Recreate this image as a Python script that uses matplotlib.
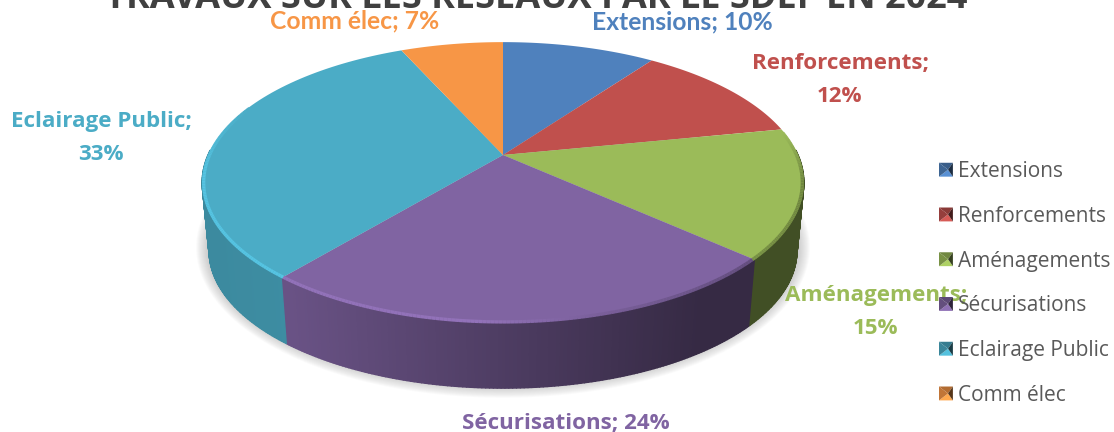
import numpy as np
import matplotlib
matplotlib.use('Agg')
import matplotlib.pyplot as plt
from matplotlib.collections import LineCollection, PolyCollection
from matplotlib.legend_handler import HandlerBase
from matplotlib.patches import Patch, Polygon

title = 'TRAVAUX SUR LES RESEAUX PAR LE SDEF EN 2024'
categories = ['Extensions', 'Renforcements', 'Aménagements', 'Sécurisations', 'Eclairage Public', 'Comm élec']
values = [10.0, 12.0, 15.0, 24.4, 32.6, 6.7]
labels = ['10%', '12%', '15%', '24%', '33%', '7%']
colors = ['#4f81bd', '#c0504d', '#9bbb59', '#8064a2', '#4bacc6', '#f79646']


def rgb(c, f=1.0):
    return np.clip(np.array(matplotlib.colors.to_rgb(c)) * f, 0, 1)


def top_xy(theta):
    # pie seen in perspective, theta clockwise from 12 o'clock
    u, v = np.sin(theta), np.cos(theta)
    w = 1 + 0.196 * v
    return 503 + 295 * u / w, 155 - 135 * v / w


def bottom_xy(theta):
    x, y = top_xy(theta)
    return 503 + 0.977 * (x - 503), 0.979 * y + 72


class BevelHandler(HandlerBase):
    # small pyramid shaped legend key (sizes in points)
    def create_artists(self, legend, orig, xd, yd, width, height, fontsize, trans):
        c = orig.get_facecolor()
        x0, y0 = -xd, -yd + height / 2 - 5
        x1, y1 = x0 + 10, y0 + 10
        xm, ym = (x0 + x1) / 2 + 1.5, (y0 + y1) / 2
        parts = [([(x0, y0), (x1, y0), (xm, ym)], 1.12),
                 ([(x0, y1), (x1, y1), (xm, ym)], 0.72),
                 ([(x0, y0), (x0, y1), (xm, ym)], 0.78),
                 ([(x1, y0), (x1, y1), (xm, ym)], 0.35)]
        return [Polygon(p, closed=True, facecolor=rgb(c, f), edgecolor='none', transform=trans) for p, f in parts]


fig = plt.figure(figsize=(11.14, 4.32), dpi=100)
ax = fig.add_axes([0, 0, 1, 1])
ax.set_xlim(0, 1114)
ax.set_ylim(432, 0)
ax.axis('off')

fractions = np.array(values) / sum(values)
edges = np.concatenate([[0], np.cumsum(fractions)]) * 2 * np.pi

# soft shadow under the pie
circle = np.linspace(0, 2 * np.pi, 240)
bx, by = bottom_xy(circle)
for grow in np.linspace(13, 1, 13):
    sx = 503 + (bx - 503) * (1 + grow / 295)
    sy = 252 + (by - 252) * (1 + grow / 140) - 3
    ax.fill(sx, sy, color='#808080', alpha=0.035, lw=0, zorder=1)

# side wall, drawn as thin strips shaded by x position
strips, strip_colors = [], []
wall = np.linspace(np.radians(88), np.radians(272), 300)
for a, b in zip(wall[:-1], wall[1:]):
    i = np.searchsorted(edges, (a + b) / 2) - 1
    xa, ya = top_xy(a)
    xb, yb = top_xy(b)
    xc, yc = bottom_xy(b)
    xd, yd = bottom_xy(a)
    strips.append([(xa, ya), (xb, yb), (xc, yc), (xd, yd)])
    shade = np.interp((xa + xb) / 2, [200, 290, 490, 700, 800], [0.8, 0.82, 0.62, 0.42, 0.42])
    strip_colors.append(rgb(colors[i], shade))
ax.add_collection(PolyCollection(strips, facecolors=strip_colors, edgecolors=strip_colors, linewidths=1.0, zorder=2))

# top face
for i, c in enumerate(colors):
    t = np.linspace(edges[i], edges[i + 1], 80)
    x, y = top_xy(t)
    ax.fill(np.r_[503, x], np.r_[155, y], color=c, lw=0, zorder=3)

# bevel just inside the front rim, fading out at both ends
segs, seg_colors = [], []
rim = np.linspace(np.radians(80), np.radians(292), 340)
for a, b in zip(rim[:-1], rim[1:]):
    i = np.searchsorted(edges, (a + b) / 2) - 1
    xa, ya = top_xy(a)
    xb, yb = top_xy(b)
    segs.append([(503 + (xa - 503) * 0.995, 182 + (ya - 182) * 0.993),
                 (503 + (xb - 503) * 0.995, 182 + (yb - 182) * 0.993)])
    f = np.interp((xa + xb) / 2, [200, 480, 600, 800], [1.14, 1.14, 0.95, 0.72])
    fade = np.interp(np.degrees(a), [80, 100, 262, 292], [0, 1, 1, 0])
    seg_colors.append(rgb(colors[i], 1 + (f - 1) * fade))
ax.add_collection(LineCollection(segs, colors=seg_colors, linewidths=2.4, zorder=4))

# title, cut by the top of the picture
ax.text(536, 8, title, fontsize=26, fontweight='bold', family='Open Sans', color='#404040', ha='center', va='baseline')

# data labels
label_pos = [(682, 22, 'Lato'), (840, 80, 'Open Sans'), (876, 312, 'Open Sans'),
             (566, 423, 'Open Sans'), (101, 138, 'Open Sans'), (355, 21, 'Lato')]
for name, lab, c, (lx, ly, fam) in zip(categories, labels, colors, label_pos):
    two_lines = name in ('Renforcements', 'Aménagements', 'Eclairage Public')
    sep = ';\n' if two_lines else '; '
    size = 17.7 if fam == 'Lato' else 16.1
    ax.text(lx, ly, name + sep + lab, color=c, fontsize=size, fontweight='bold', family=fam,
            ha='center', va='center', linespacing=1.7, zorder=5)

handles = [Patch(facecolor=c) for c in colors]
leg = ax.legend(handles, categories, loc='upper left', bbox_to_anchor=(939 / 1114, 1 - 161 / 432),
                frameon=False, fontsize=15, labelspacing=1.14, handlelength=0.95, handletextpad=-0.05,
                borderpad=0, borderaxespad=0, labelcolor='#595959',
                handler_map={Patch: BevelHandler()})
for txt in leg.get_texts():
    txt.set_family('Open Sans')

fig.savefig('out.png', dpi=100)
